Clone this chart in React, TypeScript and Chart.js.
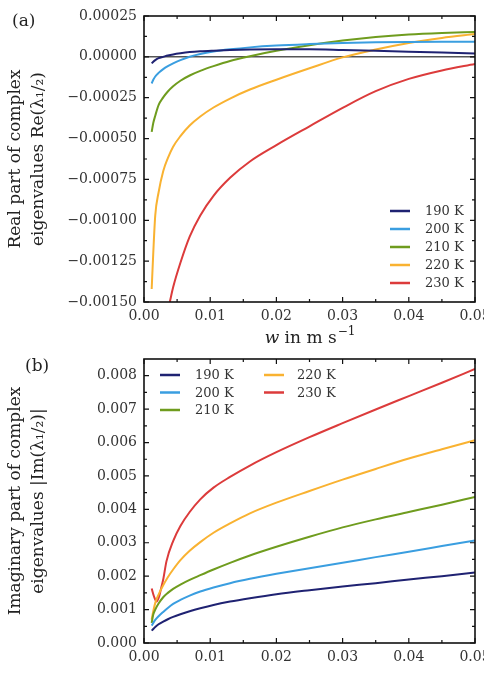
import React, { useEffect, useRef } from 'react';
import { Chart, registerables } from 'chart.js';

Chart.register(...registerables);

// ---------- data ----------
const W_GRID = [0.00116, 0.0014, 0.0017, 0.0022, 0.0029, 0.0036, 0.0044, 0.0055, 0.0069, 0.0085, 0.0105, 0.013, 0.016, 0.02, 0.025, 0.03, 0.035, 0.04, 0.045, 0.05];
const W_RED_RE = [0.0039, 0.0044, 0.0055, 0.0069, 0.0085, 0.0105, 0.013, 0.016, 0.02, 0.025, 0.03, 0.035, 0.04, 0.045, 0.05];
const W_RED_IM = [0.00116, 0.0015, 0.0019, 0.0023, 0.0026, 0.0029, 0.0034, 0.0044, 0.0055, 0.0069, 0.0085, 0.0105, 0.013, 0.016, 0.02, 0.025, 0.03, 0.035, 0.04, 0.045, 0.05];

const RE_190 = [-0.00004, -0.00003, -0.00002, -0.000008, 0.0, 0.000008, 0.000015, 0.000022, 0.000029, 0.000034, 0.000038, 0.000042, 0.000045, 0.000046, 0.000046, 0.000042, 0.000037, 0.000031, 0.000026, 0.000021];
const RE_200 = [-0.000163, -0.00014, -0.00012, -0.000098, -0.000075, -0.000057, -0.00004, -0.00002, 0.000001, 0.000018, 0.000033, 0.000046, 0.000058, 0.000069, 0.000078, 0.000085, 0.000089, 0.000091, 0.000092, 0.000092];
const RE_210 = [-0.000459, -0.000405, -0.00036, -0.000295, -0.000248, -0.000212, -0.00018, -0.000146, -0.000114, -0.000086, -0.000057, -0.000025, 0.000004, 0.000037, 0.000071, 0.0001, 0.000122, 0.000137, 0.000146, 0.000152];
const RE_220 = [-0.00142, -0.0012, -0.00097, -0.00083, -0.0007, -0.00062, -0.00055, -0.000485, -0.00042, -0.000365, -0.00031, -0.000255, -0.0002, -0.00014, -0.00007, -0.000003, 0.000045, 0.000085, 0.000116, 0.00014];
const RE_230 = [-0.0015, -0.00141, -0.00126, -0.0011, -0.00097, -0.00085, -0.00074, -0.00064, -0.00054, -0.000425, -0.000312, -0.00021, -0.000135, -0.000083, -0.000044];

const IM_190 = [0.00037, 0.00042, 0.00048, 0.00056, 0.00064, 0.00071, 0.00078, 0.00086, 0.00095, 0.00104, 0.00114, 0.00124, 0.00134, 0.00146, 0.00158, 0.00169, 0.00179, 0.0019, 0.002, 0.00211];
const IM_200 = [0.00052, 0.0006, 0.00069, 0.0008, 0.00093, 0.00105, 0.00117, 0.00129, 0.00142, 0.00154, 0.00166, 0.00179, 0.00192, 0.00207, 0.00224, 0.0024, 0.00257, 0.00273, 0.0029, 0.00307];
const IM_210 = [0.0006, 0.00085, 0.001, 0.00118, 0.00137, 0.0015, 0.00162, 0.00175, 0.00189, 0.00203, 0.0022, 0.0024, 0.00262, 0.00288, 0.00318, 0.00346, 0.0037, 0.00392, 0.00414, 0.00437];
const IM_220 = [0.0007, 0.00095, 0.0012, 0.00145, 0.00173, 0.00197, 0.0022, 0.00248, 0.00276, 0.00302, 0.0033, 0.00358, 0.00388, 0.0042, 0.00455, 0.00489, 0.00521, 0.00552, 0.0058, 0.00607];
const IM_230 = [0.00163, 0.0014, 0.00124, 0.0014, 0.00165, 0.0019, 0.00245, 0.00305, 0.0035, 0.00392, 0.0043, 0.00465, 0.00497, 0.00531, 0.00571, 0.00616, 0.00658, 0.00699, 0.00739, 0.00779, 0.0082];

const SERIES_LABELS = ['190 K', '200 K', '210 K', '220 K', '230 K'];
const SERIES_COLORS = ['#1f2272', '#3a9ee0', '#6f9c1e', '#f9b231', '#dc3b3b'];

const RE_Y_TITLE = ['Real part of complex', 'eigenvalues Re(λ₁/₂)'];
const IM_Y_TITLE = ['Imaginary part of complex', 'eigenvalues |Im(λ₁/₂)|'];

// ---------- helpers ----------
const FAMILY = "'DejaVu Serif', serif";
const TICK_COLOR = '#333';
const TEXT_COLOR = '#222';

const pts = (xs: number[], ys: number[]) => xs.map((x, i) => ({ x, y: ys[i] }));

const fmtRe = (v: number) => {
  if (Math.abs(v) < 1e-12) return '0.00000';
  return v.toFixed(5).replace('-', '\u2212');
};

function makeDataset(i: number, xs: number[], ys: number[]) {
  return {
    label: SERIES_LABELS[i],
    data: pts(xs, ys),
    borderColor: SERIES_COLORS[i],
    backgroundColor: SERIES_COLORS[i],
    borderWidth: 2,
    pointRadius: 0,
    cubicInterpolationMode: 'monotone' as const,
    fill: false,
  };
}

function decorPlugin(kind: 'top' | 'bottom') {
  return {
    id: 'decor-' + kind,
    beforeDatasetsDraw(chart: any) {
      if (kind !== 'top') return;
      const { ctx, chartArea: a, scales } = chart;
      const y0 = scales.y.getPixelForValue(0);
      ctx.save();
      ctx.strokeStyle = '#555';
      ctx.lineWidth = 1.5;
      ctx.beginPath();
      ctx.moveTo(a.left, y0);
      ctx.lineTo(a.right, y0);
      ctx.stroke();
      ctx.restore();
    },
    afterDraw(chart: any) {
      const { ctx, chartArea: a, scales } = chart;
      const xs: number[] = scales.x.ticks.map((t: any) => t.value);
      const ys: number[] = scales.y.ticks.map((t: any) => t.value);
      const xMinor = xs.slice(1).map((v, i) => (v + xs[i]) / 2);
      const yMinor = ys.slice(1).map((v, i) => (v + ys[i]) / 2);
      ctx.save();
      ctx.strokeStyle = '#111';
      ctx.lineWidth = 1.2;
      const tickX = (vals: number[], len: number) => {
        vals.forEach((v) => {
          const p = scales.x.getPixelForValue(v);
          ctx.beginPath();
          ctx.moveTo(p, a.bottom);
          ctx.lineTo(p, a.bottom - len);
          ctx.moveTo(p, a.top);
          ctx.lineTo(p, a.top + len);
          ctx.stroke();
        });
      };
      const tickY = (vals: number[], len: number) => {
        vals.forEach((v) => {
          const p = scales.y.getPixelForValue(v);
          ctx.beginPath();
          ctx.moveTo(a.left, p);
          ctx.lineTo(a.left + len, p);
          ctx.moveTo(a.right, p);
          ctx.lineTo(a.right - len, p);
          ctx.stroke();
        });
      };
      tickX(xs, 5);
      tickX(xMinor, 3);
      tickY(ys, 5);
      tickY(yMinor, 3);
      // frame
      ctx.lineWidth = 1.6;
      ctx.strokeStyle = '#111';
      ctx.strokeRect(a.left, a.top, a.right - a.left, a.bottom - a.top);

      // legend
      ctx.font = `13px ${FAMILY}`;
      ctx.textBaseline = 'middle';
      ctx.textAlign = 'left';
      SERIES_LABELS.forEach((lab, i) => {
        let lx: number, tx: number, y: number;
        if (kind === 'top') {
          lx = a.right - 85;
          tx = a.right - 50;
          y = a.bottom - 19 - (SERIES_LABELS.length - 1 - i) * 18;
        } else {
          const col = i < 3 ? 0 : 1;
          const row = i < 3 ? i : i - 3;
          lx = a.left + (col ? 120 : 16);
          tx = a.left + (col ? 153 : 51);
          y = a.top + 16 + row * 17.5;
        }
        ctx.strokeStyle = SERIES_COLORS[i];
        ctx.lineWidth = 2.5;
        ctx.beginPath();
        ctx.moveTo(lx, y);
        ctx.lineTo(lx + 20, y);
        ctx.stroke();
        ctx.fillStyle = TICK_COLOR;
        ctx.fillText(lab, tx, y + 1);
      });

      // panel label
      ctx.fillStyle = TEXT_COLOR;
      ctx.font = `17px ${FAMILY}`;
      ctx.textBaseline = 'alphabetic';
      if (kind === 'top') {
        ctx.fillText('(a)', 12, 26);
        // x-axis title with italic w and superscript
        const base = a.bottom + 41;
        ctx.font = `italic 17px ${FAMILY}`;
        const w1 = ctx.measureText('w').width;
        ctx.font = `17px ${FAMILY}`;
        const w2 = ctx.measureText(' in m s').width;
        ctx.font = `12px ${FAMILY}`;
        const w3 = ctx.measureText('\u22121').width;
        let x0 = (a.left + a.right) / 2 - (w1 + w2 + w3) / 2;
        ctx.font = `italic 17px ${FAMILY}`;
        ctx.fillText('w', x0, base);
        x0 += w1;
        ctx.font = `17px ${FAMILY}`;
        ctx.fillText(' in m s', x0, base);
        x0 += w2;
        ctx.font = `12px ${FAMILY}`;
        ctx.fillText('\u22121', x0 + 1, base - 8);
      } else {
        ctx.fillText('(b)', 25, 19);
      }
      ctx.restore();
    },
  };
}

const zeroPad = (s: any) => {
  s.paddingLeft = 0;
  s.paddingRight = 0;
  s.paddingTop = 0;
  s.paddingBottom = 0;
};

function xScale(height: number) {
  return {
    type: 'linear' as const,
    min: 0,
    max: 0.05,
    grid: { display: false, drawTicks: false },
    border: { display: false },
    ticks: {
      stepSize: 0.01,
      padding: 6,
      color: TICK_COLOR,
      font: { family: FAMILY, size: 14 },
      maxRotation: 0,
      autoSkip: false,
      includeBounds: false,
      callback: (v: any) => Number(v).toFixed(2),
    },
    afterFit: (s: any) => {
      s.height = height;
      zeroPad(s);
    },
  };
}

function yScale(min: number, max: number, step: number, fmt: (v: number) => string, title: string[]) {
  return {
    type: 'linear' as const,
    min,
    max,
    grid: { display: false, drawTicks: false },
    border: { display: false },
    ticks: {
      stepSize: step,
      padding: 7,
      color: TICK_COLOR,
      font: { family: FAMILY, size: 14 },
      autoSkip: false,
      includeBounds: false,
      callback: (v: any) => fmt(Number(v)),
    },
    title: {
      display: true,
      text: title,
      color: TEXT_COLOR,
      font: { family: FAMILY, size: 17, lineHeight: 1.35 },
      padding: { top: 4, bottom: 0 },
    },
    afterFit: (s: any) => {
      s.width = 144;
      zeroPad(s);
    },
  };
}

export default function App() {
  const topRef = useRef<HTMLCanvasElement | null>(null);
  const botRef = useRef<HTMLCanvasElement | null>(null);

  useEffect(() => {
    document.body.style.margin = '0';
    const common = {
      animation: false as const,
      responsive: false,
      devicePixelRatio: 1,
      events: [] as any[],
      plugins: { legend: { display: false }, tooltip: { enabled: false } },
    };
    const top = new Chart(topRef.current as HTMLCanvasElement, {
      type: 'line',
      data: {
        datasets: [
          makeDataset(0, W_GRID, RE_190),
          makeDataset(1, W_GRID, RE_200),
          makeDataset(2, W_GRID, RE_210),
          makeDataset(3, W_GRID, RE_220),
          makeDataset(4, W_RED_RE, RE_230),
        ],
      },
      options: {
        ...common,
        layout: { autoPadding: false, padding: { left: 0, right: 9, top: 16, bottom: 0 } },
        scales: {
          x: xScale(50),
          y: yScale(-0.0015, 0.00025, 0.00025, fmtRe, RE_Y_TITLE),
        },
      } as any,
      plugins: [decorPlugin('top')],
    });
    const bot = new Chart(botRef.current as HTMLCanvasElement, {
      type: 'line',
      data: {
        datasets: [
          makeDataset(0, W_GRID, IM_190),
          makeDataset(1, W_GRID, IM_200),
          makeDataset(2, W_GRID, IM_210),
          makeDataset(3, W_GRID, IM_220),
          makeDataset(4, W_RED_IM, IM_230),
        ],
      },
      options: {
        ...common,
        layout: { autoPadding: false, padding: { left: 0, right: 9, top: 7, bottom: 0 } },
        scales: {
          x: xScale(31),
          y: yScale(0, 0.0085, 0.001, (v) => v.toFixed(3), IM_Y_TITLE),
        },
      } as any,
      plugins: [decorPlugin('bottom')],
    });
    return () => {
      top.destroy();
      bot.destroy();
    };
  }, []);

  return (
    <div style={{ position: 'relative', width: 484, height: 674, background: '#fff', overflow: 'hidden' }}>
      <canvas ref={topRef} width={484} height={352} style={{ display: 'block' }} />
      <canvas ref={botRef} width={484} height={322} style={{ display: 'block' }} />
    </div>
  );
}
